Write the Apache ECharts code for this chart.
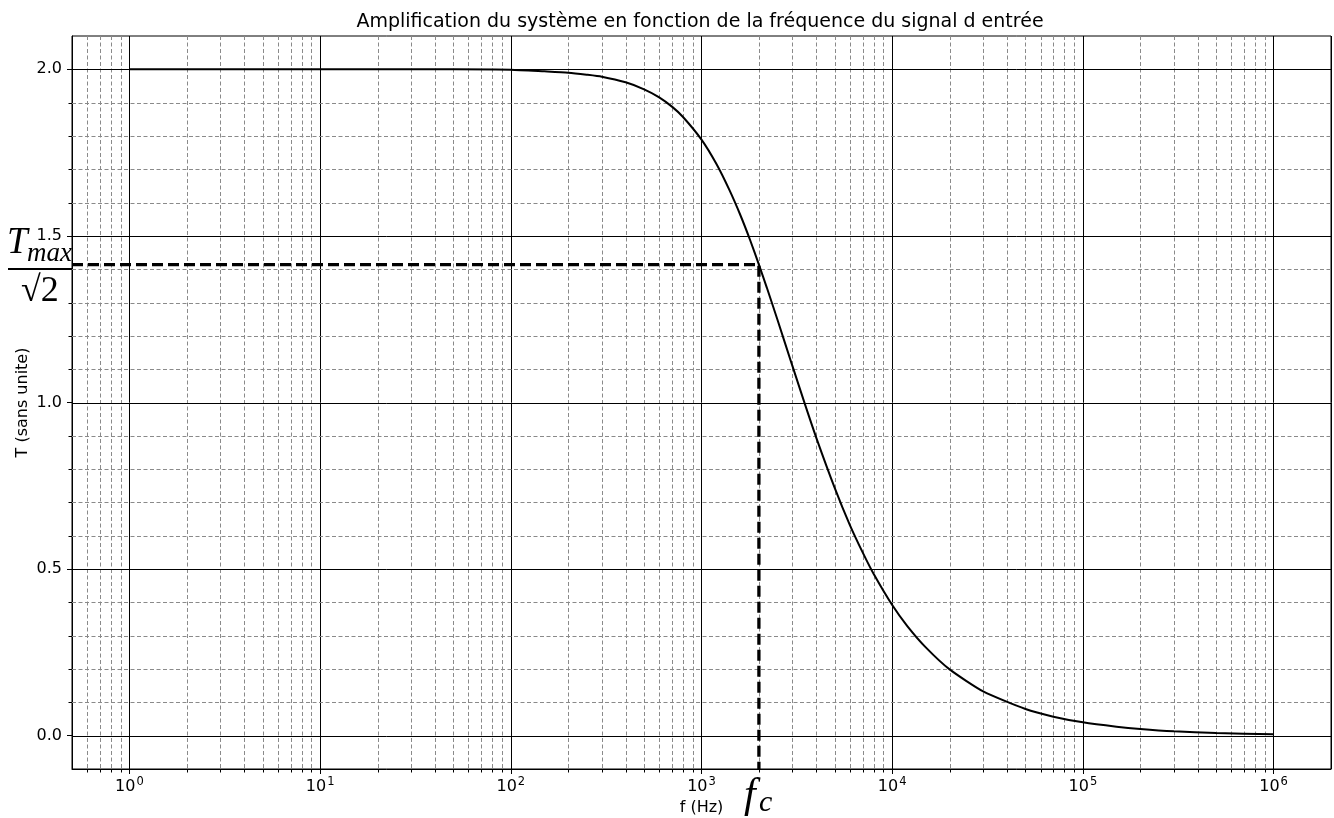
<!DOCTYPE html>
<html><head><meta charset="utf-8">
<script src="https://cdn.jsdelivr.net/npm/echarts@6/dist/echarts.min.js"></script>
<style>html,body{margin:0;padding:0;background:#fff}#c{width:1334px;height:818px}</style>
</head><body><div id="c"></div>
<script>
// ---- data ----
const freqHz = [1, 10, 50, 100, 150, 200, 250, 300, 400, 500, 600, 700, 800, 1000, 1200, 1400, 1600, 1800, 2000, 2200, 2500, 3000, 3500, 4000, 5000, 6000, 7000, 8000, 10000, 12000, 15000, 20000, 30000, 50000, 70000, 100000, 150000, 200000, 300000, 500000, 1000000];
const gainT  = [2.0, 2.0, 2.0, 1.999, 1.994, 1.99, 1.984, 1.978, 1.961, 1.94, 1.916, 1.888, 1.857, 1.789, 1.715, 1.638, 1.562, 1.487, 1.414, 1.345, 1.249, 1.109, 0.992, 0.894, 0.743, 0.632, 0.55, 0.485, 0.392, 0.329, 0.265, 0.199, 0.133, 0.08, 0.057, 0.04, 0.027, 0.02, 0.013, 0.008, 0.004];
const cutoffFreq = 2000;
const cutoffT = 1.414;
const xMin = 0.5, xMax = 2e6;
const yMin = -0.1, yMax = 2.1;
const yTickValues = [0, 0.5, 1.0, 1.5, 2.0];
const yMinorValues = [0.1, 0.2, 0.3, 0.4, 0.6, 0.7, 0.8, 0.9, 1.1, 1.2, 1.3, 1.4, 1.6, 1.7, 1.8, 1.9];
const xMinorMultipliers = [2, 3, 4, 5, 6, 7, 8, 9];
const titleText = "Amplification du système en fonction de la fréquence du signal d entrée";
const xName = "f (Hz)";
const yName = "T (sans unite)";

// minor log ticks (axis decoration)
const xMinorValues = [];
for (let k = -1; k <= 6; k++) {
  for (const m of xMinorMultipliers) {
    const v = m * Math.pow(10, k);
    if (v > xMin * 1.01 && v < xMax * 0.99) xMinorValues.push(v);
  }
}

const chart = echarts.init(document.getElementById('c'), null, {renderer: 'canvas'});
const FONT = 'DejaVu Sans';
const SERIF = 'Liberation Serif';
const gridDash = [4, 2.5];
const minorColor = '#8a8a8a';

const option = {
  animation: false,
  backgroundColor: '#fff',
  title: {
    text: titleText, left: 695, top: 8, textAlign: 'center',
    textStyle: {fontFamily: FONT, fontSize: 19, fontWeight: 'normal', color: '#000'}
  },
  grid: {left: 72, right: 3, top: 36, bottom: 49, containLabel: false, outerBoundsMode: 'none',
    show: true, borderColor: '#000', borderWidth: 1, backgroundColor: 'transparent'},
  xAxis: {
    type: 'log', logBase: 10, min: xMin, max: xMax,
    name: xName, nameLocation: 'middle', nameGap: 31, nameMoveOverlap: false,
    nameTextStyle: {fontFamily: FONT, fontSize: 16, color: '#000'},
    axisLine: {onZero: false, lineStyle: {color: '#000', width: 1}},
    axisTick: {show: true, length: 5, lineStyle: {color: '#000'}},
    axisLabel: {
      showMinLabel: false, showMaxLabel: false, margin: 7, color: '#000',
      formatter: function (v) {
        const e = Math.round(Math.log10(v));
        if (Math.abs(Math.log10(v) - e) > 1e-6) return '';
        return '{b|10}{e|' + e + '}';
      },
      rich: {
        b: {fontFamily: FONT, fontSize: 16, color: '#000'},
        e: {fontFamily: FONT, fontSize: 11.5, color: '#000', padding: [0, 0, 10, 1]}
      }
    },
    splitLine: {show: true, lineStyle: {color: '#000', width: 1}}
  },
  yAxis: {
    type: 'value', min: yMin, max: yMax,
    name: yName, nameLocation: 'middle', nameGap: 41, nameRotate: 90, nameMoveOverlap: false,
    nameTextStyle: {fontFamily: FONT, fontSize: 16, color: '#000'},
    axisLine: {show: true, onZero: false, lineStyle: {color: '#000', width: 1}},
    axisTick: {show: true, length: 5, customValues: yTickValues, lineStyle: {color: '#000'}},
    axisLabel: {customValues: yTickValues, margin: 10, fontFamily: FONT, fontSize: 16, color: '#000',
      formatter: v => v.toFixed(1)},
    splitLine: {show: false}
  },
  series: [
    { // minor vertical grid lines + ticks
      type: 'custom', z: 1, silent: true, clip: false,
      data: xMinorValues.map(v => [v, 1]),
      encode: {x: 0, y: 1},
      renderItem: function (params, api) {
        const cs = params.coordSys;
        const x = Math.round(api.coord([api.value(0), 1])[0]) + 0.5;
        return {type: 'group', children: [
          {type: 'line', shape: {x1: x, y1: cs.y, x2: x, y2: cs.y + cs.height},
           style: {stroke: minorColor, lineWidth: 1, lineDash: gridDash}},
          {type: 'line', shape: {x1: x, y1: cs.y + cs.height, x2: x, y2: cs.y + cs.height + 3.5},
           style: {stroke: '#000', lineWidth: 1}}
        ]};
      }
    },
    { // minor horizontal grid lines + ticks
      type: 'custom', z: 1, silent: true, clip: false,
      data: yMinorValues.map(v => [1, v]),
      encode: {x: 0, y: 1},
      renderItem: function (params, api) {
        const cs = params.coordSys;
        const y = Math.round(api.coord([1, api.value(1)])[1]) + 0.5;
        return {type: 'group', children: [
          {type: 'line', shape: {x1: cs.x, y1: y, x2: cs.x + cs.width, y2: y},
           style: {stroke: minorColor, lineWidth: 1, lineDash: gridDash}},
          {type: 'line', shape: {x1: cs.x - 3.5, y1: y, x2: cs.x, y2: y},
           style: {stroke: '#000', lineWidth: 1}}
        ]};
      }
    },
    { // major horizontal grid lines
      type: 'custom', z: 2, silent: true,
      data: yTickValues.map(v => [1, v]),
      encode: {x: 0, y: 1},
      renderItem: function (params, api) {
        const cs = params.coordSys;
        const y = Math.round(api.coord([1, api.value(1)])[1]) + 0.5;
        return {type: 'line', shape: {x1: cs.x, y1: y, x2: cs.x + cs.width, y2: y},
          style: {stroke: '#000', lineWidth: 1}};
      }
    },
    {
      type: 'line', z: 5, showSymbol: false, symbol: 'none', smooth: 0.2,
      data: freqHz.map((f, i) => [f, gainT[i]]),
      lineStyle: {color: '#000', width: 2}
    },
    {
      type: 'line', z: 6, showSymbol: false, symbol: 'none', clip: false,
      data: [[xMin, cutoffT], [cutoffFreq, cutoffT], [cutoffFreq, yMin]],
      lineStyle: {color: '#000', width: 3.3, type: [11, 5]}
    }
  ],
  graphic: [
    {type: 'text', left: 7, top: 225, style: {
      text: 'T', fontFamily: SERIF, fontStyle: 'italic', fontSize: 37, fill: '#000'}},
    {type: 'text', left: 27, top: 240, style: {
      text: 'max', fontFamily: SERIF, fontStyle: 'italic', fontSize: 27, fill: '#000'}},
    {type: 'rect', shape: {x: 8, y: 268, width: 64, height: 2}, style: {fill: '#000'}},
    {type: 'text', left: 21, top: 274, style: {
      text: '√2', fontFamily: SERIF, fontSize: 36, fill: '#000'}},
    {type: 'text', left: 744, top: 775, style: {
      text: 'f', fontFamily: SERIF, fontStyle: 'italic', fontSize: 42, fill: '#000'}},
    {type: 'text', left: 759, top: 788, style: {
      text: 'c', fontFamily: SERIF, fontStyle: 'italic', fontSize: 30, fill: '#000'}}
  ]
};
chart.setOption(option);
</script>
</body></html>
